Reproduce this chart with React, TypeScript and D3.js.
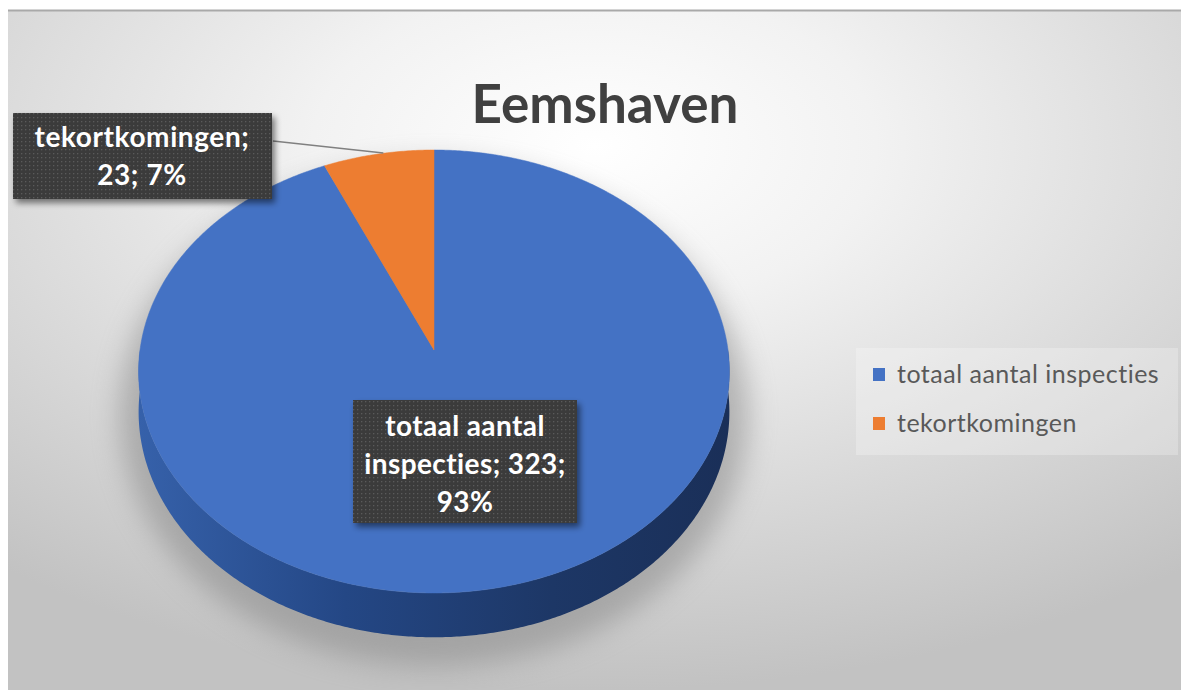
import React from "react";
import * as d3 from "d3";

const title = "Eemshaven";
const categories = ["totaal aantal inspecties", "tekortkomingen"];
const values = [323, 23];
const percentLabels = ["93%", "7%"];
const colors = ["#4472C4", "#ED7D31"];

const W = 1181;
const H = 690;
const FONT = "Lato, 'Open Sans', sans-serif";

// 3D perspective projection for the pie
const cx = 434;
const cy = 350;
const R = 294;
const A = 219.4;
const B = 0.097;
const D = 40;

function proj(angle: number, depth = 0): [number, number] {
  const u = Math.sin(angle);
  const v = -Math.cos(angle);
  const s = 1 / (1 - B * v);
  return [cx + R * u * s, cy + A * v * s + D * s * depth];
}

function rimPoints(a0: number, a1: number, depth = 0): [number, number][] {
  const n = Math.max(2, Math.ceil((Math.abs(a1 - a0) * 180) / Math.PI / 0.5));
  const pts: [number, number][] = [];
  for (let i = 0; i <= n; i++) {
    const a = a0 + ((a1 - a0) * i) / n;
    pts.push(proj(a, depth));
  }
  return pts;
}

export default function App() {
  const pie = d3
    .pie<number>()
    .sort(null)
    .value((d) => d)(values);

  const line = d3.line();

  const slicePaths = pie.map((p) => {
    const pts: [number, number][] = [[cx, cy], ...rimPoints(p.startAngle, p.endAngle)];
    return line(pts) + "Z";
  });

  // side wall (front half)
  const sideTop = rimPoints(Math.PI / 2, (3 * Math.PI) / 2, 0);
  const sideBottom = rimPoints((3 * Math.PI) / 2, Math.PI / 2, 1);
  const sidePath = line([...sideTop, ...sideBottom]) + "Z";

  // leader line for small slice label
  const small = pie[1];
  const midSmall = (small.startAngle + small.endAngle) / 2;
  const leaderEnd = proj(midSmall);

  const labelLines = [
    [categories[0].split(" ").slice(0, 2).join(" "), `${categories[0].split(" ")[2]}; ${values[0]};`, percentLabels[0]],
    [`${categories[1]};`, `${values[1]}; ${percentLabels[1]}`],
  ];

  return (
    <svg width={W} height={H} style={{ display: "block", position: "absolute", left: 0, top: 0 }}>
      <defs>
        <radialGradient id="bg" cx="50%" cy="20%" r="80%" fx="50%" fy="20%">
          <stop offset="0%" stopColor="#ffffff" />
          <stop offset="30%" stopColor="#f2f2f2" />
          <stop offset="100%" stopColor="#c2c2c2" />
        </radialGradient>
        <linearGradient id="side" x1="0" x2="1" y1="0" y2="0">
          <stop offset="0%" stopColor="#3661aa" />
          <stop offset="35%" stopColor="#244785" />
          <stop offset="70%" stopColor="#1d3766" />
          <stop offset="100%" stopColor="#1a2f58" />
        </linearGradient>
        <filter id="blur" x="-20%" y="-20%" width="140%" height="140%">
          <feGaussianBlur stdDeviation="14" />
        </filter>
        <filter id="boxShadow" x="-10%" y="-10%" width="130%" height="130%">
          <feGaussianBlur in="SourceAlpha" stdDeviation="3" />
          <feOffset dx="3" dy="4" result="o" />
          <feComponentTransfer>
            <feFuncA type="linear" slope="0.5" />
          </feComponentTransfer>
          <feMerge>
            <feMergeNode />
            <feMergeNode in="SourceGraphic" />
          </feMerge>
        </filter>
        <pattern id="dots" width="4" height="4" patternUnits="userSpaceOnUse">
          <rect width="4" height="4" fill="#3b3b3b" />
          <rect x="1" y="1" width="1.3" height="1.3" fill="#5a5a5a" />
        </pattern>
      </defs>

      <rect x={8} y={10} width={W - 8} height={H - 10} fill="url(#bg)" />
      <line x1={8} x2={W} y1={10.5} y2={10.5} stroke="#a9a9a9" strokeWidth={2} />

      {/* pie shadow */}
      <ellipse cx={cx} cy={cy + 65} rx={R + 20} ry={A + 32} fill="#808080" opacity={0.5} filter="url(#blur)" />

      {/* side wall */}
      <path d={sidePath} fill="url(#side)" />

      {/* top face */}
      {slicePaths.map((d, i) => (
        <path key={i} d={d} fill={colors[i]} stroke={colors[i]} strokeWidth={0.5} />
      ))}

      {/* title */}
      <text x={605} y={123} textAnchor="middle" fontFamily={FONT} fontWeight={700} fontSize={53} fill="#404040">
        {title}
      </text>

      {/* leader line */}
      <line x1={273} y1={141} x2={leaderEnd[0] + 5} y2={leaderEnd[1] - 1} stroke="#808080" strokeWidth={1.5} />

      {/* small slice label */}
      <g filter="url(#boxShadow)">
        <rect x={13} y={113} width={259} height={86} fill="url(#dots)" />
      </g>
      {labelLines[1].map((t, i) => (
        <text key={i} x={142} y={147 + i * 38} textAnchor="middle" fontFamily={FONT} fontWeight={700} fontSize={28} letterSpacing={0.6} fill="#ffffff">
          {t}
        </text>
      ))}

      {/* big slice label */}
      <g filter="url(#boxShadow)">
        <rect x={353} y={400} width={224} height={123} fill="url(#dots)" />
      </g>
      {labelLines[0].map((t, i) => (
        <text key={i} x={465} y={436 + i * 38} textAnchor="middle" fontFamily={FONT} fontWeight={700} fontSize={28} letterSpacing={0.4} fill="#ffffff">
          {t}
        </text>
      ))}

      {/* legend */}
      <rect x={856} y={348} width={322} height={107} fill="#ffffff" opacity={0.25} />
      {categories.map((c, i) => (
        <g key={c} transform={`translate(873, ${368 + i * 49})`}>
          <rect x={0} y={0} width={12} height={13} fill={colors[i]} />
          <text x={24} y={15} fontFamily={FONT} fontSize={25} letterSpacing={0.5} fill="#595959">
            {c}
          </text>
        </g>
      ))}
    </svg>
  );
}
